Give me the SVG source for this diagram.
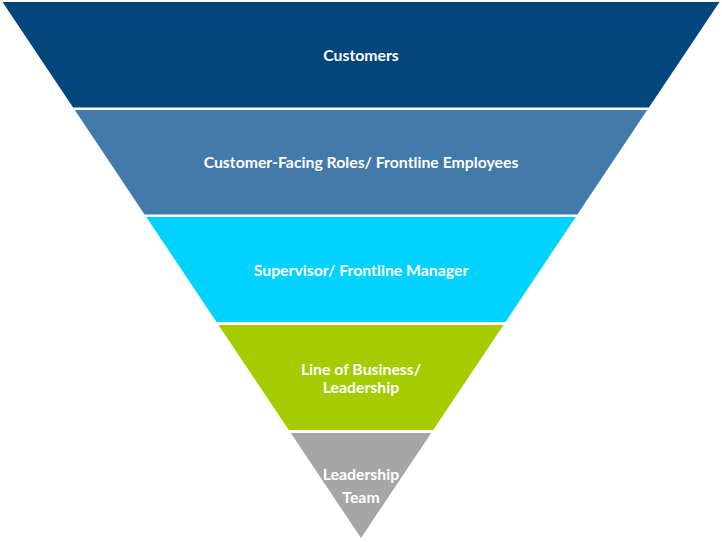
<svg xmlns="http://www.w3.org/2000/svg" width="722" height="542" viewBox="0 0 722 542">
<style>
.lbl{font-family:Lato,"Open Sans","Liberation Sans",sans-serif;font-weight:bold;font-size:15.8px;fill:#ffffff;text-anchor:middle}
</style>
<rect width="722" height="542" fill="#ffffff"/>
<g id="customers">
<polygon points="2.5,2 719.5,2 648.9,107.5 73.1,107.5" fill="#02467b"/>
<text class="lbl" x="361" y="61">Customers</text>
</g>
<g id="frontline">
<polygon points="74.8,110 647.2,110 577.4,214.5 144.6,214.5" fill="#427aa9"/>
<text class="lbl" x="361" y="168">Customer-Facing Roles/ Frontline Employees</text>
</g>
<g id="supervisor">
<polygon points="146.3,217 575.7,217 505.5,322 216.5,322" fill="#00d3ff"/>
<text class="lbl" x="361" y="276">Supervisor/ Frontline Manager</text>
</g>
<g id="lob">
<polygon points="218.5,325 503.5,325 433.2,430 288.8,430" fill="#a4cc00"/>
<text class="lbl" x="361" y="375">Line of Business/</text>
<text class="lbl" x="361" y="393">Leadership</text>
</g>
<g id="leadership-team">
<polygon points="290.8,433 431.2,433 361,538" fill="#a6a6a6"/>
<text class="lbl" x="361" y="480">Leadership</text>
<text class="lbl" x="361" y="503">Team</text>
</g>
<g id="connectors"></g>
</svg>
